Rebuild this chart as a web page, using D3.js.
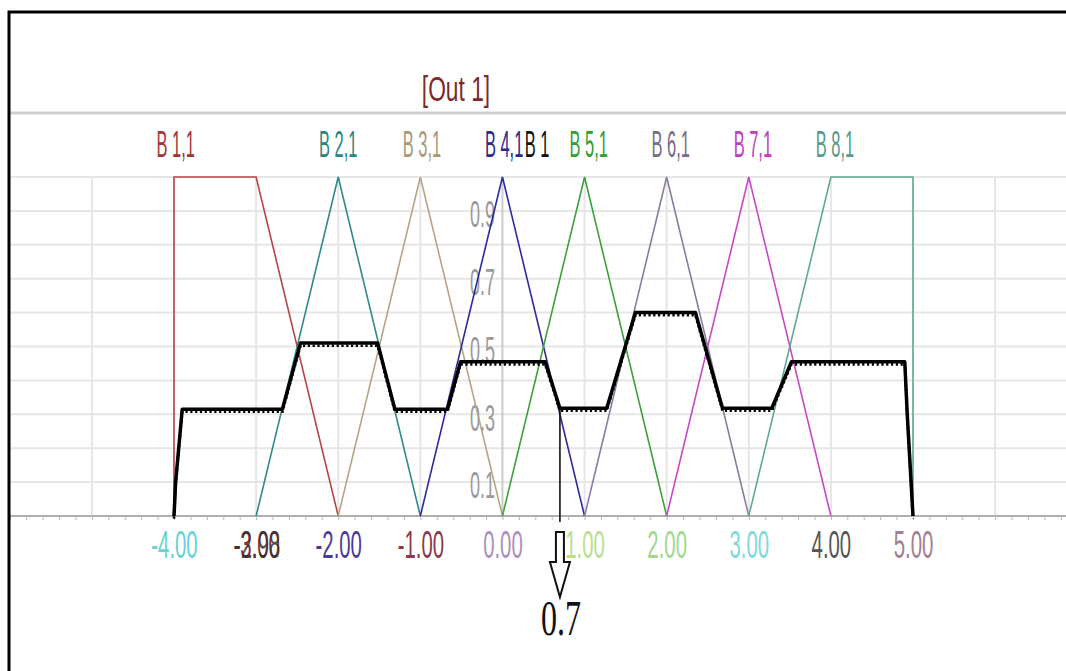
<!DOCTYPE html>
<html>
<head>
<meta charset="utf-8">
<script src="https://cdn.jsdelivr.net/npm/d3@7"></script>
<style>
  body { margin: 0; background: #fff; }
  svg { display: block; }
  text { font-family: "Liberation Sans", Arial, sans-serif; }
</style>
</head>
<body>
<svg id="chart" width="1066" height="671"></svg>
<script>
// membership functions of [Out 1]
var mfNames = ["B 1,1", "B 2,1", "B 3,1", "B 4,1", "B 5,1", "B 6,1", "B 7,1", "B 8,1"];
var mfColors = ["#b84545", "#2e8b8b", "#b5a585", "#2b2b9b", "#3ca03c", "#8c7c9c", "#c848c8", "#5fa898"];
var mfLabelColors = ["#a53535", "#2a8585", "#a89878", "#2a2a8a", "#30a030", "#7a6a8a", "#c040c0", "#5a9a8a"];
var mfLabelX = [-3.98, -2, -0.98, 0.02, 1.05, 2.05, 3.05, 4.05];
var mfX = [
  [-4, -4, -3, -2],
  [-3, -2, -1],
  [-2, -1, 0],
  [-1, 0, 1],
  [0, 1, 2],
  [1, 2, 3],
  [2, 3, 4],
  [3, 4, 5, 5]
];
var mfY = [
  [0, 1, 1, 0],
  [0, 1, 0],
  [0, 1, 0],
  [0, 1, 0],
  [0, 1, 0],
  [0, 1, 0],
  [0, 1, 0],
  [0, 1, 1, 0]
];

// aggregated output (black curve)
var outX = [-4, -3.98, -3.9, -2.68, -2.46, -1.52, -1.31, -0.67, -0.51, 0.52, 0.7, 1.27, 1.62, 2.35, 2.68, 3.28, 3.52, 4.9, 4.93, 5.0];
var outY = [0, 0.1, 0.315, 0.315, 0.51, 0.51, 0.315, 0.315, 0.455, 0.455, 0.318, 0.318, 0.6, 0.6, 0.318, 0.318, 0.455, 0.455, 0.3, 0];

var crisp = 0.7;

// axis labels
var xTicks = [-4, -3, -2, -1, 0, 1, 2, 3, 4, 5];
var xTickColors = ["#66d2d2", "#8a2a2a", "#4a3a9a", "#8a3a4a", "#a890c0", "#b8e090", "#a0d890", "#80d8d8", "#555555", "#a08090"];
var yTicks = [0.1, 0.3, 0.5, 0.7, 0.9];

var svg = d3.select("#chart");
var x = d3.scaleLinear().domain([-4, 5]).range([174, 913]);
var y = d3.scaleLinear().domain([0, 1]).range([516, 177]);

var fmt2 = function(d) { return d3.format(".2f")(d).replace("\u2212", "-"); };

// header line and title
svg.append("line")
  .attr("x1", 9).attr("x2", 1066).attr("y1", 113).attr("y2", 113)
  .attr("stroke", "#cfcfcf").attr("stroke-width", 3);

svg.append("text")
  .attr("transform", "translate(456,101) scale(0.67,1.05)")
  .attr("text-anchor", "middle")
  .style("font-size", "34px")
  .attr("fill", "#7e2a2a")
  .text("[Out 1]");

// grid
var grid = svg.append("g");
grid.selectAll(".hg")
  .data(d3.range(1, 11).map(function(d) { return d / 10; }))
  .enter().append("line")
    .attr("x1", 9).attr("x2", 1066)
    .attr("y1", function(d) { return y(d); })
    .attr("y2", function(d) { return y(d); })
    .attr("stroke", "#e6e6e6").attr("stroke-width", 2);
grid.selectAll(".vg")
  .data(d3.range(-5, 7))
  .enter().append("line")
    .attr("x1", function(d) { return x(d); })
    .attr("x2", function(d) { return x(d); })
    .attr("y1", y(1)).attr("y2", y(0))
    .attr("stroke", function(d) { return d === 0 ? "#cccccc" : "#e6e6e6"; })
    .attr("stroke-width", 2);

// x axis
svg.append("line")
  .attr("x1", 9).attr("x2", 1066).attr("y1", y(0)).attr("y2", y(0))
  .attr("stroke", "#b0b0b0").attr("stroke-width", 2);

var minor = d3.range(-30, 36).map(function(d) { return d / 5; });
var gMinor = svg.append("g")
  .attr("transform", "translate(0," + y(0) + ")")
  .call(d3.axisBottom(x).tickValues(minor).tickSize(4).tickFormat(""));
gMinor.select(".domain").remove();
gMinor.selectAll("line").attr("stroke", "#b8b8b8");

var gMajor = svg.append("g")
  .attr("transform", "translate(0," + y(0) + ")")
  .call(d3.axisBottom(x).tickValues(xTicks).tickSize(0).tickPadding(36).tickFormat(fmt2));
gMajor.select(".domain").remove();
gMajor.selectAll("text")
  .attr("transform", "scale(0.55,1.05)")
  .style("font-size", "37px")
  .attr("dy", "0.1em")
  .attr("fill", function(d, i) { return xTickColors[i]; });

// overlapping label at -3
gMajor.selectAll(".tick").filter(function(d) { return d === -3; })
  .append("text")
    .attr("transform", "scale(0.55,1.05)")
    .attr("x", 1)
    .attr("y", 36).attr("dy", "0.1em")
    .attr("text-anchor", "middle")
    .style("font-size", "37px")
    .attr("fill", "#333333")
    .attr("fill-opacity", 0.85)
    .text(fmt2(-2.98));

// y labels
var gy = svg.append("g")
  .attr("transform", "translate(" + x(0) + ",0)")
  .call(d3.axisLeft(y).tickValues(yTicks).tickSize(0).tickPadding(15).tickFormat(d3.format(".1f")));
gy.select(".domain").remove();
gy.selectAll("text")
  .attr("transform", "scale(0.5,1.05)")
  .attr("dy", "0.42em")
  .style("font-size", "36px")
  .attr("fill", "#9a9a9a");

// membership functions
var line = d3.line()
  .x(function(d) { return x(d[0]); })
  .y(function(d) { return y(d[1]); });

mfNames.forEach(function(name, i) {
  var pts = d3.zip(mfX[i], mfY[i]);
  svg.append("path")
    .attr("d", line(pts))
    .attr("fill", "none")
    .attr("stroke", mfColors[i])
    .attr("stroke-width", 1.6);

  svg.append("text")
    .attr("transform", "translate(" + x(mfLabelX[i]) + ",157) scale(0.47,1.05)")
    .attr("text-anchor", "middle")
    .style("font-size", "35px")
    .attr("fill", mfLabelColors[i])
    .text(name);
});

svg.append("text")
  .attr("transform", "translate(537,157) scale(0.47,1.05)")
  .attr("text-anchor", "middle")
  .style("font-size", "35px")
  .attr("fill", "#111")
  .text("B 1");

// output curve, drawn thick with small teeth below it
var outPts = d3.zip(outX, outY);
svg.append("path")
  .attr("d", line(outPts))
  .attr("fill", "none")
  .attr("stroke", "#000")
  .attr("stroke-width", 3.5)
  .attr("stroke-linejoin", "round");
svg.append("path")
  .attr("d", line(outPts))
  .attr("transform", "translate(0,2.6)")
  .attr("fill", "none")
  .attr("stroke", "#000")
  .attr("stroke-width", 2.6)
  .attr("stroke-dasharray", "2.2,2.6");

// crisp value marker
var cx = x(crisp);
svg.append("line")
  .attr("x1", cx).attr("x2", cx)
  .attr("y1", y(0.318)).attr("y2", y(0) + 6)
  .attr("stroke", "#111").attr("stroke-width", 1.6);

svg.append("path")
  .attr("d", "M" + (cx - 4) + ",532 L" + (cx + 4) + ",532 L" + (cx + 4) + ",562 L" + (cx + 10) + ",562 L" + cx + ",597 L" + (cx - 10) + ",562 L" + (cx - 4) + ",562 Z")
  .attr("fill", "#fff")
  .attr("stroke", "#111")
  .attr("stroke-width", 2);

svg.append("text")
  .attr("transform", "translate(" + (cx + 1) + ",635) scale(0.64,1)")
  .attr("text-anchor", "middle")
  .style("font-family", "'Liberation Serif', 'Times New Roman', serif")
  .style("font-size", "50px")
  .attr("fill", "#111")
  .text(d3.format(".1f")(crisp));

// outer frame
svg.append("rect")
  .attr("x", 9).attr("y", 12)
  .attr("width", 1100).attr("height", 720)
  .attr("fill", "none")
  .attr("stroke", "#000")
  .attr("stroke-width", 3);
</script>
</body>
</html>
